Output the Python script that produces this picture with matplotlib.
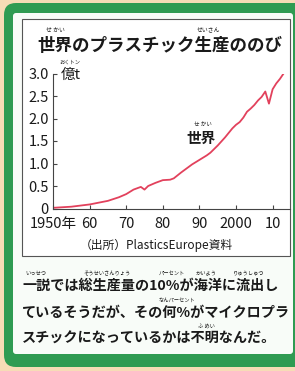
import matplotlib
matplotlib.use("Agg")
import matplotlib.pyplot as plt
from matplotlib.patches import FancyBboxPatch, Rectangle

plt.rcParams['font.family'] = ['Noto Sans CJK JP', 'DejaVu Sans']

# ---------------------------------------------------------------
# データ（億t）
# ---------------------------------------------------------------
anos = [1950, 1955, 1960, 1965, 1968, 1970, 1972, 1974, 1975, 1976,
        1978, 1980, 1982, 1983, 1985, 1988, 1990, 1992, 1993, 1995,
        1997, 1999, 2000, 2001, 2002, 2003, 2004, 2005, 2006, 2007,
        2008, 2009, 2010, 2011, 2012, 2013]
producao = [0.015, 0.04, 0.09, 0.17, 0.25, 0.32, 0.42, 0.48, 0.42, 0.50,
            0.57, 0.63, 0.64, 0.67, 0.80, 0.98, 1.08, 1.18, 1.24, 1.40,
            1.58, 1.78, 1.86, 1.92, 2.02, 2.15, 2.22, 2.30, 2.40, 2.48,
            2.60, 2.33, 2.65, 2.78, 2.88, 3.00]

xticks = [1950, 1960, 1970, 1980, 1990, 2000, 2010]
xlabels = ["1950年", "60", "70", "80", "90", "2000", "10"]
yticks = [0, 0.5, 1.0, 1.5, 2.0, 2.5, 3.0]
ylabels = ["0", "0.5", "1.0", "1.5", "2.0", "2.5", "3.0"]

W, H = 295, 371
verde = "#2f9b52"
pessego = "#f6dcb6"
texto = "#1a1a1a"
vermelho = "#e2415c"

fig = plt.figure(figsize=(W / 100, H / 100), dpi=100)
fig.patch.set_facecolor(pessego)

# fundo em coordenadas de pixel
bg = fig.add_axes([0, 0, 1, 1])
bg.set_xlim(0, W)
bg.set_ylim(H, 0)
bg.axis("off")

bg.add_patch(FancyBboxPatch((4, 3), 310, 364, boxstyle="round,pad=0,rounding_size=12",
                            fc=verde, ec="none"))
bg.add_patch(FancyBboxPatch((13, 13), 280, 341, boxstyle="round,pad=0,rounding_size=3",
                            fc="#f8fcf8", ec="none"))
bg.add_patch(Rectangle((22, 19), 268, 237, fc="white", ec="#555555", lw=0.8))

# titulo
bg.text(160, 46, "世界のプラスチック生産ののび", ha="center", va="center",
        fontsize=12.6, fontweight="bold", color=texto)
bg.text(55, 30, "せ かい", ha="center", va="center", fontsize=4.2, color=texto)
bg.text(208, 30, "せいさん", ha="center", va="center", fontsize=4.2, color=texto)

# unidade
bg.text(61, 75, "億t", ha="left", va="center", fontsize=10.5, color=texto)
bg.text(70, 62, "おくトン", ha="center", va="center", fontsize=3.8, color=texto)

# rotulo da serie
bg.text(201, 138, "世界", ha="center", va="center", fontsize=10.5,
        fontweight="bold", color=texto)
bg.text(203, 124, "せ かい", ha="center", va="center", fontsize=4, color=texto)

# fonte
bg.text(156, 245, "（出所）PlasticsEurope資料", ha="center", va="center",
        fontsize=8.5, color=texto)

# texto inferior
linhas = ["一説では総生産量の10%が海洋に流出し",
          "ているそうだが、その何%がマイクロプラ",
          "スチックになっているかは不明なんだ。"]
ys = [286, 313, 339]
for s, y in zip(linhas, ys):
    bg.text(22, y, s, ha="left", va="center", fontsize=10.2,
            fontweight="bold", color=texto)
furi = [(36, 273, "いっせつ"), (107, 273, "そうせいさんりょう"), (172, 273, "パーセント"),
        (206, 273, "かいよう"), (249, 273, "りゅうしゅつ"),
        (177, 300, "なんパーセント"), (206, 326, "ふ めい")]
for x, y, s in furi:
    bg.text(x, y, s, ha="center", va="center", fontsize=3.8, color=texto)

# grafico
ax = fig.add_axes([53 / W, 1 - 208.5 / H, (290 - 53) / W, (208.5 - 73.5) / H])
ax.patch.set_alpha(0)
ax.plot(anos, producao, color=vermelho, lw=1.3, solid_capstyle="round")
ax.set_xlim(1950, 2014.75)
ax.set_ylim(0, 3.0)
ax.set_xticks(xticks)
ax.set_xticklabels(xlabels)
ax.set_yticks(yticks)
ax.set_yticklabels(ylabels)
for lado in ["top", "right"]:
    ax.spines[lado].set_visible(False)
for lado in ["left", "bottom"]:
    ax.spines[lado].set_color("#444444")
    ax.spines[lado].set_linewidth(0.8)
ax.tick_params(direction="in", length=3, width=0.8, color="#444444",
               labelsize=10.5, labelcolor=texto)
ax.tick_params(axis="y", pad=3)
ax.tick_params(axis="x", pad=6)

fig.savefig("out.png", dpi=100, facecolor=pessego)
